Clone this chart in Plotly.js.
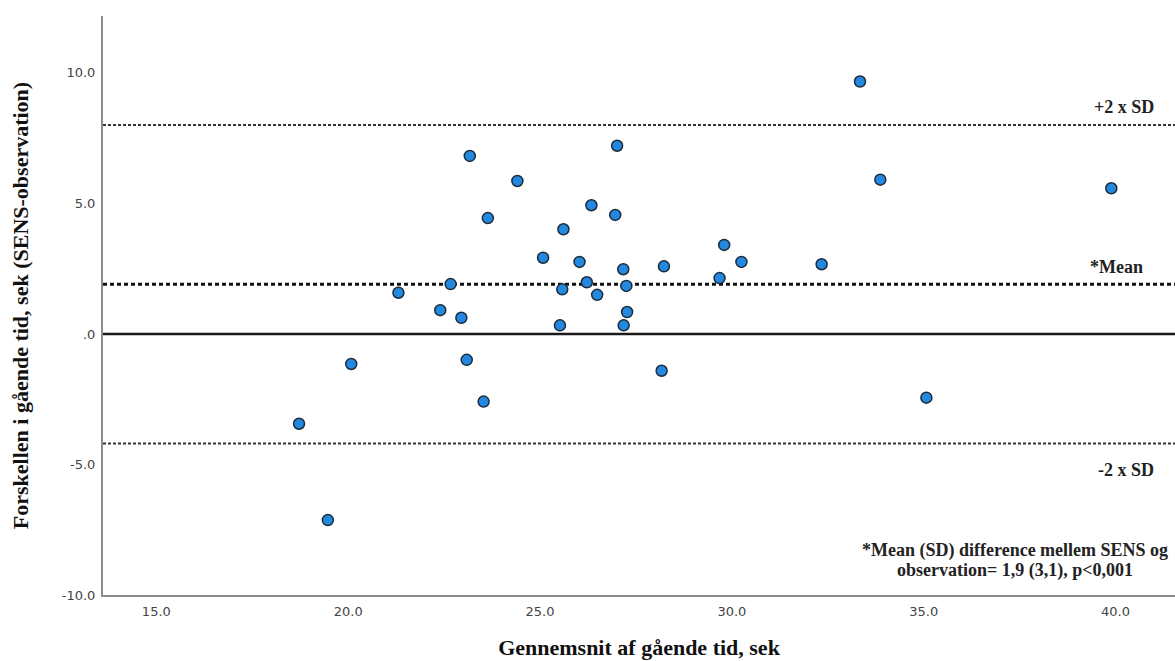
<!DOCTYPE html>
<html>
<head>
<meta charset="utf-8">
<script src="https://cdn.plot.ly/plotly-3.0.1.min.js"></script>
<style>
  html, body { margin: 0; padding: 0; background: #ffffff; }
  #chart { width: 1175px; height: 661px; }
</style>
</head>
<body>
<div id="chart"></div>
<script>
// Average of the two methods (x) and difference SENS - observation (y)
const meanTime = [18.72, 19.47, 20.08, 21.31, 22.40, 22.67, 22.95, 23.09, 23.17, 23.53,
                  23.64, 24.41, 25.08, 25.52, 25.58, 25.61, 26.03, 26.22, 26.34, 26.49,
                  26.96, 27.01, 27.17, 27.18, 27.25, 27.27, 28.17, 28.23, 29.68, 29.80,
                  30.25, 32.34, 33.34, 33.87, 35.07, 39.89];
const diffTime = [-3.44, -7.13, -1.15, 1.58, 0.91, 1.91, 0.62, -0.99, 6.82, -2.59,
                  4.44, 5.86, 2.92, 0.33, 1.71, 4.01, 2.76, 1.98, 4.93, 1.50,
                  4.56, 7.21, 2.48, 0.33, 1.84, 0.84, -1.41, 2.59, 2.14, 3.41,
                  2.76, 2.67, 9.67, 5.91, -2.44, 5.58];

const meanDiff = 1.9;
const upperLoA = 8.0;
const lowerLoA = -4.2;

const xTickVals = [15, 20, 25, 30, 35, 40];
const xTickText = ["15.0", "20.0", "25.0", "30.0", "35.0", "40.0"];
const yTickVals = [-10, -5, 0, 5, 10];
const yTickText = ["-10.0", "-5.0", ".0", "5.0", "10.0"];

const serifBold = "Liberation Serif, DejaVu Serif, serif";
const tickFont = { family: "DejaVu Sans, sans-serif", size: 13, color: "#444444" };
const noteFont = { family: serifBold, size: 18, color: "#222222" };

const trace = {
  type: "scatter",
  mode: "markers",
  x: meanTime,
  y: diffTime,
  marker: {
    size: 11,
    color: "#2389e0",
    line: { color: "#1d2b3a", width: 1.5 }
  },
  hoverinfo: "x+y",
  showlegend: false
};

const layout = {
  width: 1175,
  height: 661,
  margin: { l: 103, r: 0, t: 16, b: 66 },
  paper_bgcolor: "#ffffff",
  plot_bgcolor: "#ffffff",
  showlegend: false,
  xaxis: {
    range: [13.61, 41.55],
    tickvals: xTickVals,
    ticktext: xTickText,
    tickfont: tickFont,
    ticks: "",
    ticklabelstandoff: 3,
    showgrid: false,
    zeroline: false,
    showline: true,
    linecolor: "#8c8c8c",
    linewidth: 2,
    title: {
      text: "<b>Gennemsnit af gående tid, sek</b>",
      font: { family: serifBold, size: 22, color: "#111111" },
      standoff: 22
    }
  },
  yaxis: {
    range: [-10, 12.18],
    tickvals: yTickVals,
    ticktext: yTickText,
    tickfont: tickFont,
    ticks: "",
    ticklabelstandoff: 3,
    showgrid: false,
    zeroline: false,
    showline: true,
    linecolor: "#8c8c8c",
    linewidth: 2,
    title: {
      text: "<b>Forskellen i gående tid, sek (SENS-observation)</b>",
      font: { family: serifBold, size: 22, color: "#111111" },
      standoff: 27
    }
  },
  shapes: [
    { type: "line", xref: "paper", yref: "y", x0: 0, x1: 1, y0: 0, y1: 0,
      line: { color: "#1a1a1a", width: 2.5 }, layer: "below" },
    { type: "line", xref: "paper", yref: "y", x0: 0, x1: 1, y0: meanDiff, y1: meanDiff,
      line: { color: "#111111", width: 3, dash: "4px,3px" }, layer: "below" },
    { type: "line", xref: "paper", yref: "y", x0: 0, x1: 1, y0: upperLoA, y1: upperLoA,
      line: { color: "#333333", width: 2, dash: "3px,2px" }, layer: "below" },
    { type: "line", xref: "paper", yref: "y", x0: 0, x1: 1, y0: lowerLoA, y1: lowerLoA,
      line: { color: "#333333", width: 2, dash: "3px,2px" }, layer: "below" }
  ],
  annotations: [
    { xref: "x", yref: "y", x: 41.05, y: 8.70, text: "<b>+2 x SD</b>",
      xanchor: "right", yanchor: "middle", showarrow: false, font: noteFont },
    { xref: "x", yref: "y", x: 40.78, y: 2.57, text: "<b>*Mean</b>",
      xanchor: "right", yanchor: "middle", showarrow: false, font: noteFont },
    { xref: "x", yref: "y", x: 41.05, y: -5.21, text: "<b>-2 x SD</b>",
      xanchor: "right", yanchor: "middle", showarrow: false, font: noteFont },
    { xref: "x", yref: "y", x: 37.37, y: -8.31,
      text: "<b>*Mean (SD) difference mellem SENS og</b>",
      xanchor: "center", yanchor: "middle", showarrow: false, font: noteFont },
    { xref: "x", yref: "y", x: 37.37, y: -9.08,
      text: "<b>observation= 1,9 (3,1), p&lt;0,001</b>",
      xanchor: "center", yanchor: "middle", showarrow: false, font: noteFont }
  ]
};

Plotly.newPlot("chart", [trace], layout, { displayModeBar: false, responsive: false });
</script>
</body>
</html>
